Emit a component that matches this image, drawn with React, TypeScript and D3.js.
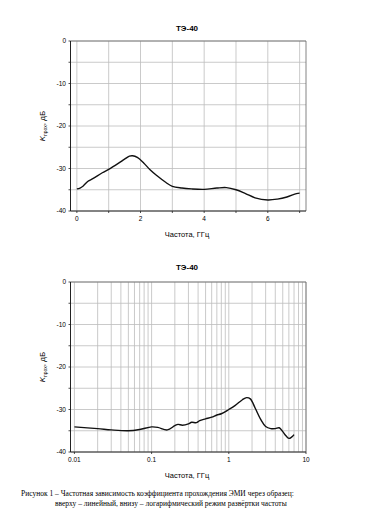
import React from "react";
import * as d3 from "d3";

const TITLE = "ТЭ-40";
const X_LABEL = "Частота, ГГц";
const CAPTION_1 = "Рисунок 1 – Частотная зависимость коэффициента прохождения ЭМИ через образец:";
const CAPTION_2 = "вверху – линейный, внизу – логарифмический режим развёртки частоты";

const linFreq = [0, 0.1, 0.2, 0.35, 0.5, 0.8, 1.0, 1.3, 1.5, 1.65, 1.75, 1.9, 2.1, 2.3, 2.5, 2.8, 3.0, 3.3, 3.6, 4.0, 4.4, 4.7, 5.0, 5.3, 5.6, 6.0, 6.3, 6.6, 6.9, 7.0];
const linK = [-34.8, -34.6, -34.1, -33.0, -32.4, -31.0, -30.2, -28.8, -27.8, -27.1, -27.0, -27.4, -28.7, -30.3, -31.6, -33.3, -34.2, -34.6, -34.8, -34.9, -34.6, -34.5, -35.0, -35.9, -36.9, -37.4, -37.2, -36.7, -35.9, -35.8];

const logFreq = [0.01, 0.02, 0.03, 0.05, 0.07, 0.1, 0.12, 0.16, 0.2, 0.22, 0.25, 0.3, 0.33, 0.38, 0.42, 0.5, 0.6, 0.7, 0.8, 1.0, 1.2, 1.5, 1.7, 1.9, 2.2, 2.6, 3.0, 3.5, 4.0, 4.5, 5.0, 5.5, 6.0, 6.5, 7.0];
const logK = [-34.1, -34.5, -34.8, -35.0, -34.7, -34.1, -34.2, -34.8, -33.8, -33.5, -33.7, -33.4, -33.0, -33.1, -32.6, -32.2, -31.8, -31.3, -31.0, -30.0, -29.1, -27.7, -27.2, -27.5, -29.7, -32.4, -34.0, -34.5, -34.5, -34.3, -35.2, -36.2, -36.8, -36.5, -35.9];

const yTicks = [0, -10, -20, -30, -40];
const linXTicks = [0, 2, 4, 6];
const logXTicks = [0.01, 0.1, 1, 10];

const FONT = "'Liberation Sans', Arial, sans-serif";
const GRID = "#bdbdbd";

type PanelProps = { top: number; log: boolean; titleY: number };

function Panel({ top, log, titleY }: PanelProps) {
  const left = 70.5, right = 306;
  const y0 = top + 41, y1 = top + 211;
  const y = d3.scaleLinear().domain([0, -40]).range([y0, y1]);
  const xs: any = log
    ? d3.scaleLog().domain([0.0089, 10]).range([left, right])
    : d3.scaleLinear().domain([-0.2, 7.2]).range([left, right]);
  const freq = log ? logFreq : linFreq;
  const vals = log ? logK : linK;
  const line = d3
    .line<number>()
    .x((_, i) => xs(freq[i]))
    .y((d) => y(d))
    .curve(d3.curveCatmullRom.alpha(0.5));

  const vGrid: number[] = log
    ? d3.range(-2, 1).flatMap((e) => d3.range(1, 10).map((m) => m * Math.pow(10, e))).concat([10])
    : d3.range(0, 8);
  const hGrid = d3.range(0, -41, -5);
  const xTicks = log ? logXTicks : linXTicks;

  return (
    <g>
      <text x={187} y={titleY} textAnchor="middle" fontFamily={FONT} fontWeight="bold" fontSize={8}>
        {TITLE}
      </text>
      {hGrid.map((v) => (
        <line key={"h" + v} x1={left} x2={right} y1={y(v)} y2={y(v)} stroke={GRID} strokeWidth={0.8} />
      ))}
      {vGrid.map((v) => (
        <line key={"v" + v} x1={xs(v)} x2={xs(v)} y1={y0} y2={y1} stroke={GRID} strokeWidth={0.8} />
      ))}
      <line x1={left} x2={right} y1={y0} y2={y0} stroke="#666" strokeWidth={0.8} />
      <line x1={right} x2={right} y1={y0} y2={y1} stroke="#666" strokeWidth={0.8} />
      <line x1={left} x2={left} y1={y0} y2={y1} stroke="#222" strokeWidth={1} />
      <line x1={left} x2={right} y1={y1} y2={y1} stroke="#222" strokeWidth={1} />
      {hGrid.map((v) => (
        <line key={"yt" + v} x1={left - 2} x2={left} y1={y(v)} y2={y(v)} stroke="#222" strokeWidth={0.8} />
      ))}
      {(log ? logXTicks : d3.range(0, 8)).map((v) => (
        <line key={"xt" + v} x1={xs(v)} x2={xs(v)} y1={y1} y2={y1 + 2} stroke="#222" strokeWidth={0.8} />
      ))}
      {yTicks.map((v) => (
        <text key={"yl" + v} x={left - 4.5} y={y(v) + 2.2} textAnchor="end" fontFamily={FONT} fontSize={6.5}>
          {v}
        </text>
      ))}
      {xTicks.map((v) => (
        <text key={"xl" + v} x={xs(v)} y={y1 + 10} textAnchor="middle" fontFamily={FONT} fontSize={6.5}>
          {String(v)}
        </text>
      ))}
      <text x={187} y={top + 237} textAnchor="middle" fontFamily={FONT} fontSize={7.5}>
        {X_LABEL}
      </text>
      <text transform={`translate(45, ${top + 126}) rotate(-90)`} textAnchor="middle" fontFamily={FONT} fontSize={8}>
        <tspan fontStyle="italic">K</tspan>
        <tspan fontSize={5} dy={2}>прох</tspan>
        <tspan dy={-2}>, дБ</tspan>
      </text>
      <path d={line(vals) || ""} fill="none" stroke="#111" strokeWidth={1.4} />
    </g>
  );
}

export default function App() {
  return (
    <svg
      width={380}
      height={526}
      style={{ position: "absolute", left: 0, top: 0, background: "#fff" }}
    >
      <rect width={380} height={526} fill="#fff" />
      <Panel top={0} log={false} titleY={31} />
      <Panel top={241} log={true} titleY={270} />
      <text x={21} y={496} fontFamily="'Liberation Serif', 'Times New Roman', serif" fontSize={7.5}>
        {CAPTION_1}
      </text>
      <text x={55} y={506} fontFamily="'Liberation Serif', 'Times New Roman', serif" fontSize={7.5}>
        {CAPTION_2}
      </text>
    </svg>
  );
}
